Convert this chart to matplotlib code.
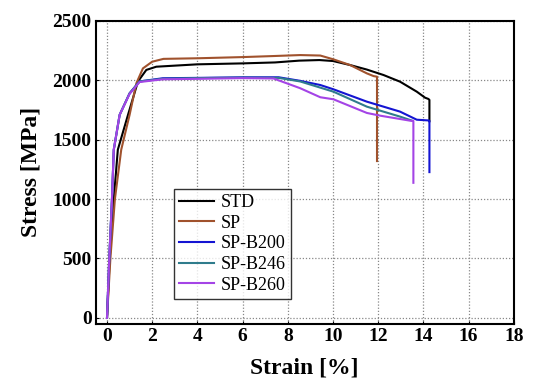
import matplotlib
matplotlib.use("Agg")
import matplotlib.pyplot as plt

plt.rcParams['font.family'] = ['Liberation Serif', 'DejaVu Serif']

labels = ["STD", "SP", "SP-B200", "SP-B246", "SP-B260"]
colors = ["#000000", "#a0522d", "#1414d2", "#2f7c8c", "#a444e6"]

std_x = [0, 0.12, 0.3, 0.48, 0.93, 1.37, 1.74, 2.18, 4.0, 6.0, 7.44, 8.5, 9.4, 10.0,
         10.76, 11.5, 12.24, 12.97, 13.71, 14.08, 14.22, 14.27, 14.27]
std_y = [0, 500, 1000, 1416, 1709, 1990, 2087, 2114, 2134, 2142, 2150, 2165, 2170, 2162,
         2128, 2090, 2044, 1988, 1904, 1853, 1843, 1835, 1655]

sp_x = [0, 0.15, 0.35, 0.63, 1.0, 1.3, 1.59, 2.0, 2.5, 4.0, 6.0, 7.4, 8.55, 9.44, 10.02,
        10.76, 11.5, 11.8, 11.95, 11.95]
sp_y = [0, 500, 1000, 1416, 1709, 1975, 2100, 2156, 2180, 2185, 2195, 2204, 2212, 2208, 2176,
        2128, 2058, 2035, 2030, 1320]

b200_x = [0, 0.1, 0.22, 0.3, 0.56, 1.0, 1.44, 2.47, 4.0, 6.0, 7.6, 8.55, 9.44, 10.02,
          11.5, 12.97, 13.71, 14.22, 14.27, 14.27]
b200_y = [0, 500, 1000, 1416, 1709, 1890, 1990, 2017, 2020, 2025, 2025, 1995, 1960, 1924,
          1820, 1736, 1668, 1662, 1660, 1227]

b246_x = [0, 0.1, 0.22, 0.3, 0.56, 1.0, 1.44, 2.47, 4.0, 6.0, 7.6, 8.55, 10.02, 11.5,
          12.97, 13.5]
b246_y = [0, 500, 1000, 1416, 1709, 1890, 1990, 2012, 2018, 2022, 2020, 1990, 1904, 1778,
          1694, 1660]

b260_x = [0, 0.1, 0.22, 0.3, 0.56, 1.0, 1.44, 2.47, 4.0, 6.0, 7.37, 8.55, 9.44, 10.02,
          11.5, 12.09, 13.41, 13.56, 13.56]
b260_y = [0, 500, 1000, 1416, 1709, 1885, 1985, 2008, 2012, 2018, 2015, 1933, 1857, 1840,
          1725, 1702, 1660, 1658, 1137]

xs = [std_x, sp_x, b200_x, b246_x, b260_x]
ys = [std_y, sp_y, b200_y, b246_y, b260_y]

fig = plt.figure(figsize=(5.5, 3.86), dpi=100)
ax = fig.add_axes([0.174, 0.161, 0.760, 0.785])

for x, y, c, lab in zip(xs, ys, colors, labels):
    ax.plot(x, y, color=c, lw=1.5, label=lab)

ax.set_xlim(-0.5, 18)
ax.set_ylim(-50, 2500)
ax.set_xticks(range(0, 19, 2))
ax.set_yticks(range(0, 2501, 500))
ax.grid(True, color="#888888", linestyle=(0, (1, 1.5)), lw=0.9)
ax.set_axisbelow(True)
ax.tick_params(direction="in", length=2.5, width=0.8, pad=3)
for lab in ax.get_xticklabels() + ax.get_yticklabels():
    lab.set_fontweight("bold")
    lab.set_fontsize(14)
for s in ax.spines.values():
    s.set_linewidth(1.5)

ax.set_xlabel("Strain [%]", fontsize=17, fontweight="bold", labelpad=9)
ax.set_ylabel("Stress [MPa]", fontsize=17, fontweight="bold", labelpad=8)

leg = ax.legend(loc="lower left", bbox_to_anchor=(0.187, 0.082), fontsize=13,
                frameon=True, fancybox=False, edgecolor="black", handlelength=1.9,
                labelspacing=0.2, borderpad=0.3, handletextpad=0.4, borderaxespad=0)
leg.get_frame().set_linewidth(1.0)

fig.savefig("out.png", dpi=100)
